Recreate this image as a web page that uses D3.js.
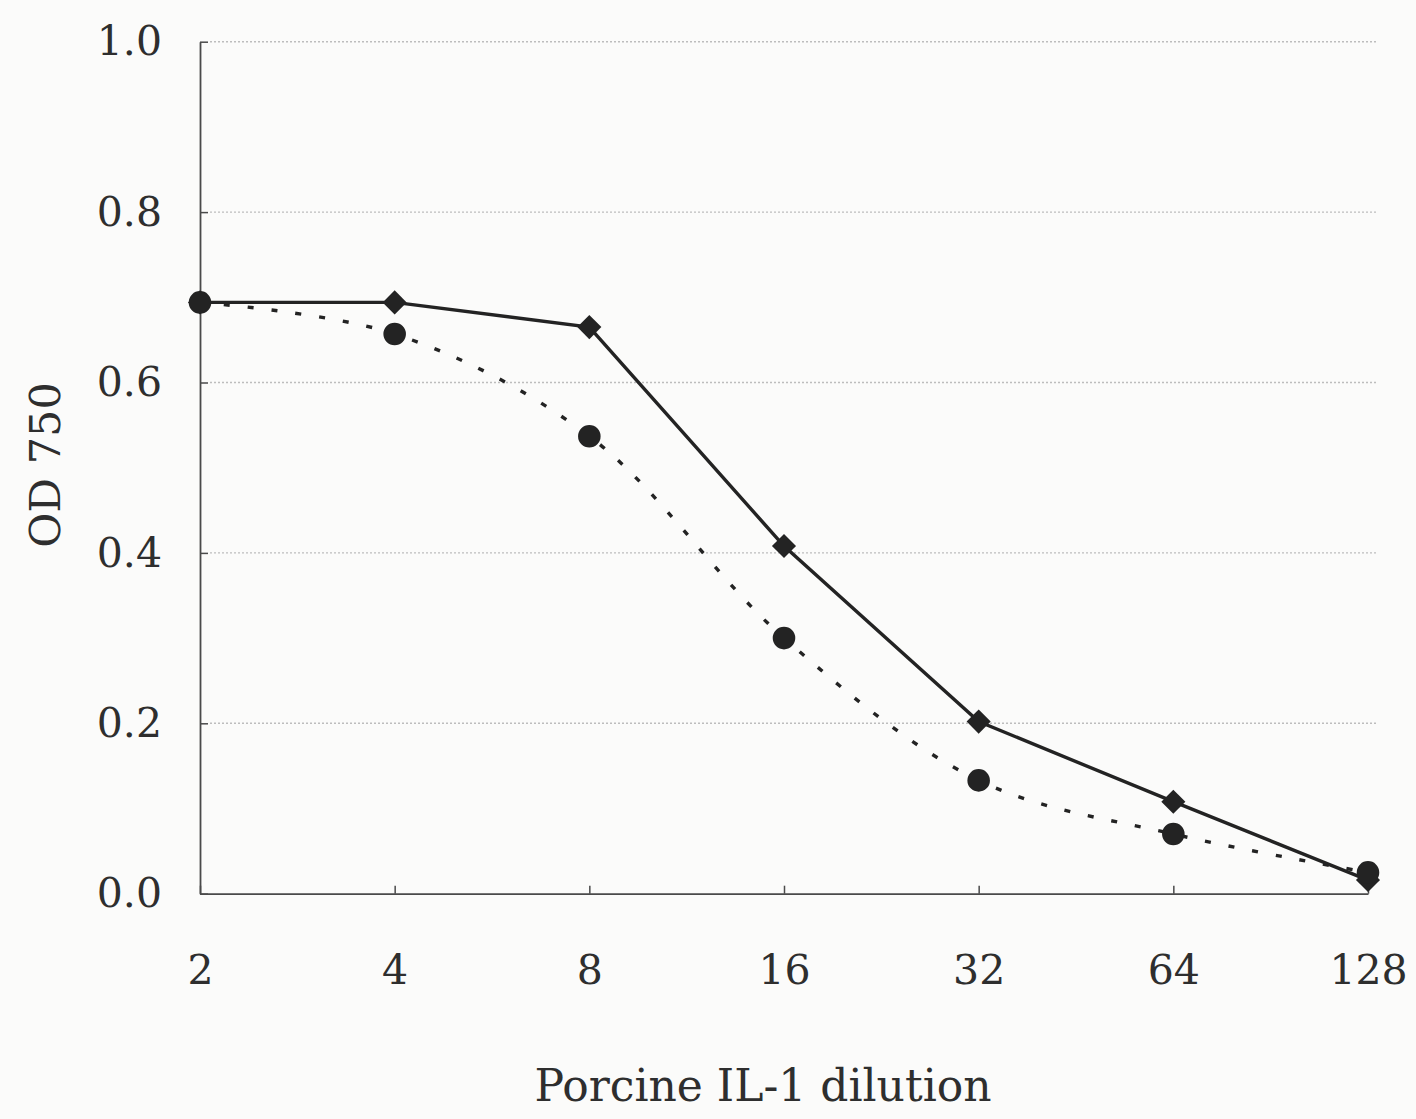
<!DOCTYPE html>
<html>
<head>
<meta charset="utf-8">
<script src="https://cdn.jsdelivr.net/npm/d3@7"></script>
<style>
  html, body { margin: 0; padding: 0; background: #fbfbfa; }
  svg { display: block; }
  text { font-family: "DejaVu Serif", "Liberation Serif", serif; fill: #2e2e2e; }
</style>
</head>
<body>
<svg id="chart" width="1416" height="1119"></svg>
<script>
// ---- data ----
const dilutions = ["2", "4", "8", "16", "32", "64", "128"];
const solidDiamond = [0.694, 0.694, 0.665, 0.408, 0.202, 0.108, 0.016];
const dottedCircle = [0.694, 0.657, 0.537, 0.300, 0.133, 0.070, 0.025];
const yTicks = [0.0, 0.2, 0.4, 0.6, 0.8, 1.0];
const xTitle = "Porcine IL-1 dilution";
const yTitle = "OD 750";

// ---- layout ----
const svg = d3.select("#chart");
const x = d3.scalePoint().domain(dilutions).range([200, 1368]);
const y = d3.scaleLinear().domain([0, 1]).range([893.7, 41.7]);
const ink = "#232323";

// gridlines
svg.append("g").selectAll("line")
  .data(yTicks.filter(d => d > 0))
  .join("line")
  .attr("x1", 210).attr("x2", 1376)
  .attr("y1", d => y(d)).attr("y2", d => y(d))
  .attr("stroke", "#bdbdbd")
  .attr("stroke-width", 1.4)
  .attr("stroke-dasharray", "2,2");

// y axis
const yAxis = svg.append("g")
  .attr("transform", "translate(200,0)")
  .call(d3.axisLeft(y).tickValues(yTicks).tickFormat(d3.format(".1f"))
    .tickSizeInner(-8).tickSizeOuter(0).tickPadding(38));
yAxis.selectAll("text").style("font-size", "41px");

// x axis
const xAxis = svg.append("g")
  .attr("transform", `translate(0,${y(0)})`)
  .call(d3.axisBottom(x).tickSizeInner(-8).tickSizeOuter(0).tickPadding(61));
xAxis.selectAll("text").style("font-size", "41px");

[yAxis, xAxis].forEach(g => {
  g.select(".domain").attr("stroke", "#4a4a4a").attr("stroke-width", 1.8);
  g.selectAll(".tick line").attr("stroke", "#4a4a4a").attr("stroke-width", 1.5);
  g.selectAll("text").attr("fill", "#2e2e2e");
});

// series lines
const dotLine = d3.line()
  .x((d, i) => x(dilutions[i])).y(d => y(d))
  .curve(d3.curveCatmullRom.alpha(0.5));
svg.append("path")
  .datum(dottedCircle)
  .attr("d", dotLine)
  .attr("fill", "none")
  .attr("stroke", ink)
  .attr("stroke-width", 3.4)
  .attr("stroke-dasharray", "6,18");

const solidLine = d3.line()
  .x((d, i) => x(dilutions[i])).y(d => y(d));
svg.append("path")
  .datum(solidDiamond)
  .attr("d", solidLine)
  .attr("fill", "none")
  .attr("stroke", ink)
  .attr("stroke-width", 3.4);

// markers
svg.append("g").selectAll("path")
  .data(solidDiamond)
  .join("path")
  .attr("d", d3.symbol().type(d3.symbolSquare).size(290))
  .attr("transform", (d, i) => `translate(${x(dilutions[i])},${y(d)}) rotate(45)`)
  .attr("fill", ink);

svg.append("g").selectAll("path")
  .data(dottedCircle)
  .join("path")
  .attr("d", d3.symbol().type(d3.symbolCircle).size(400))
  .attr("transform", (d, i) => `translate(${x(dilutions[i])},${y(d)})`)
  .attr("fill", ink);

// titles
svg.append("text")
  .attr("x", 763).attr("y", 1101)
  .attr("text-anchor", "middle")
  .style("font-size", "44px")
  .text(xTitle);

svg.append("text")
  .attr("transform", "translate(60,465) rotate(-90)")
  .attr("text-anchor", "middle")
  .style("font-size", "43px")
  .text(yTitle);
</script>
</body>
</html>
